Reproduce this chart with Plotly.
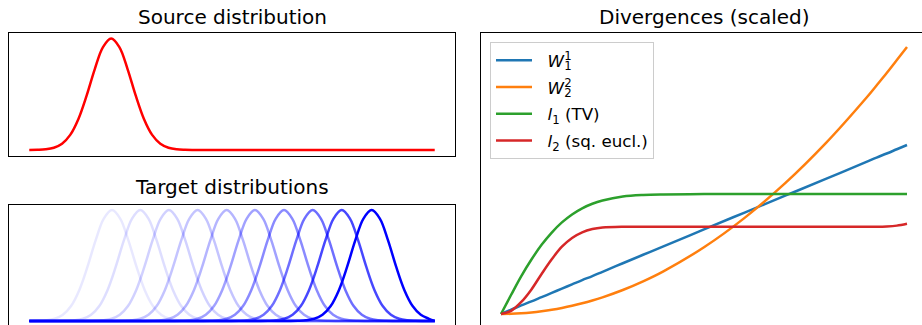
import plotly.graph_objects as go

# ---------------- data ----------------
# histogram bins of the 1D distributions
bin_first, bin_last = 0, 99
# shape of one (peak-normalised) Gaussian bump, by offset from its centre (in bins)
profile_offsets = [-20, -18, -16, -14, -12, -10, -8, -6, -4, -2, 0,
                   2, 4, 6, 8, 10, 12, 14, 16, 18, 20]
profile_heights = [0.0003, 0.0016, 0.006, 0.020, 0.056, 0.135, 0.278, 0.487, 0.726, 0.923, 1.0,
                   0.923, 0.726, 0.487, 0.278, 0.135, 0.056, 0.020, 0.006, 0.0016, 0.0003]
source_center = 20
target_centers = [20.2, 27.1, 34.1, 41.1, 48.2, 55.1, 62.2, 69.2, 76.3, 83.6]
target_alphas = [0.09, 0.13, 0.18, 0.23, 0.29, 0.37, 0.46, 0.57, 0.72, 1.0]

# divergences (scaled) vs. target shift (normalised 0..1)
div_shift = [0, 0.025, 0.05, 0.075, 0.1, 0.125, 0.15, 0.175, 0.2, 0.225, 0.25,
             0.3, 0.35, 0.4, 0.5, 0.6, 0.7, 0.8, 0.9, 0.925, 0.95, 0.975, 1.0]
div_w1 = [0, 0.016, 0.032, 0.047, 0.063, 0.079, 0.095, 0.111, 0.127, 0.142, 0.158,
          0.190, 0.222, 0.253, 0.317, 0.380, 0.443, 0.506, 0.570, 0.586, 0.601, 0.617, 0.633]
div_w2 = [0, 0.0006, 0.0025, 0.0056, 0.010, 0.0156, 0.0225, 0.0306, 0.040, 0.0506, 0.0625,
          0.090, 0.1225, 0.160, 0.250, 0.360, 0.490, 0.640, 0.810, 0.856, 0.9025, 0.951, 1.0]
div_tv = [0, 0.072, 0.142, 0.204, 0.259, 0.305, 0.343, 0.373, 0.396, 0.413, 0.425,
          0.440, 0.446, 0.448, 0.449, 0.449, 0.449, 0.449, 0.449, 0.449, 0.449, 0.449, 0.449]
div_l2 = [0, 0.012, 0.045, 0.092, 0.150, 0.205, 0.252, 0.285, 0.306, 0.318, 0.324,
          0.327, 0.327, 0.327, 0.327, 0.327, 0.327, 0.327, 0.327, 0.327, 0.328, 0.331, 0.338]

div_names = [
    "<i>W</i><sub><span style='letter-spacing:-7.4px'>1</span></sub><sup>1</sup>",
    "<i>W</i><sub><span style='letter-spacing:-7.4px'>2</span></sub><sup>2</sup>",
    "<i>l</i><sub>1</sub> (TV)",
    "<i>l</i><sub>2</sub> (sq. eucl.)",
]
div_colors = ["#1f77b4", "#ff7f0e", "#2ca02c", "#d62728"]
titles = ["Source distribution", "Target distributions", "Divergences (scaled)"]

# ---------------- layout geometry (pixels) ----------------
W, H = 922, 325
FONT = "DejaVu Sans"
LW = 2.5
PAD = "\u00a0\u00a0"  # gap between legend handle and label


def fx(p):
    return p / W


def fy(p):
    return 1 - p / H


def bump(center):
    pts = [(center + o, h) for o, h in zip(profile_offsets, profile_heights)
           if bin_first <= center + o <= bin_last]
    if pts[0][0] > bin_first:
        pts.insert(0, (bin_first, 0.0))
    if pts[-1][0] < bin_last:
        pts.append((bin_last, 0.0))
    xs, ys = zip(*pts)
    return list(xs), list(ys)


fig = go.Figure()

sx, sy = bump(source_center)
fig.add_trace(go.Scatter(x=sx, y=sy, mode="lines", line=dict(color="#ff0000", width=LW, shape="spline"),
                         xaxis="x", yaxis="y", showlegend=False, hoverinfo="skip"))

for c, a in zip(target_centers, target_alphas):
    tx, ty = bump(c)
    fig.add_trace(go.Scatter(x=tx, y=ty, mode="lines",
                             line=dict(color=f"rgba(0,0,255,{a})", width=LW, shape="spline"),
                             xaxis="x2", yaxis="y2", showlegend=False, hoverinfo="skip"))

for name, vals, col in zip(div_names, [div_w1, div_w2, div_tv, div_l2], div_colors):
    fig.add_trace(go.Scatter(x=div_shift, y=vals, mode="lines", name=PAD + name, legendgroup=name,
                             line=dict(color=col, width=LW, shape="spline"),
                             xaxis="x3", yaxis="y3", hoverinfo="skip"))

ax_common = dict(showgrid=False, zeroline=False, showticklabels=False, ticks="",
                 showline=True, linecolor="black", linewidth=1.3, fixedrange=True)

left_dom = [fx(9), fx(455)]
fig.update_layout(
    width=W, height=H,
    margin=dict(l=0, r=0, t=0, b=0),
    paper_bgcolor="white", plot_bgcolor="white",
    font=dict(family=FONT, color="black"),
    xaxis=dict(domain=left_dom, range=[-4.95, 103.95], mirror=True, anchor="y", **ax_common),
    yaxis=dict(domain=[fy(155.5), fy(33)], range=[-0.05, 1.05], mirror=True, anchor="x", **ax_common),
    xaxis2=dict(domain=left_dom, range=[-4.95, 103.95], side="top", anchor="y2", **ax_common),
    yaxis2=dict(domain=[0, fy(204.5)], range=[-4 / 111, 1 + 5.5 / 111], mirror=True, anchor="x2", **ax_common),
    xaxis3=dict(domain=[fx(481), 1], range=[-20 / 406, 1 + 15 / 406], side="top", anchor="y3", **ax_common),
    yaxis3=dict(domain=[0, fy(33)], range=[-11 / 267, 1 + 14 / 267], anchor="x3", **ax_common),
    legend=dict(x=fx(490), y=fy(42), xanchor="left", yanchor="top",
                bgcolor="rgba(255,255,255,0.8)", bordercolor="#cccccc", borderwidth=1,
                font=dict(family=FONT, size=16.7, color="black"), tracegroupgap=2, itemwidth=36),
    showlegend=True,
)

title_pos = [((9 + 455) / 2, 17), ((9 + 455) / 2, 187), ((481 + 927) / 2, 17)]
for t, (px, py) in zip(titles, title_pos):
    fig.add_annotation(text=t, x=fx(px), y=fy(py), xref="paper", yref="paper",
                       xanchor="center", yanchor="middle", showarrow=False,
                       font=dict(family=FONT, size=20, color="black"))

fig.write_html("out.html", config={"displayModeBar": False},
               post_script="document.body.style.margin='0';document.body.style.overflow='hidden';")
